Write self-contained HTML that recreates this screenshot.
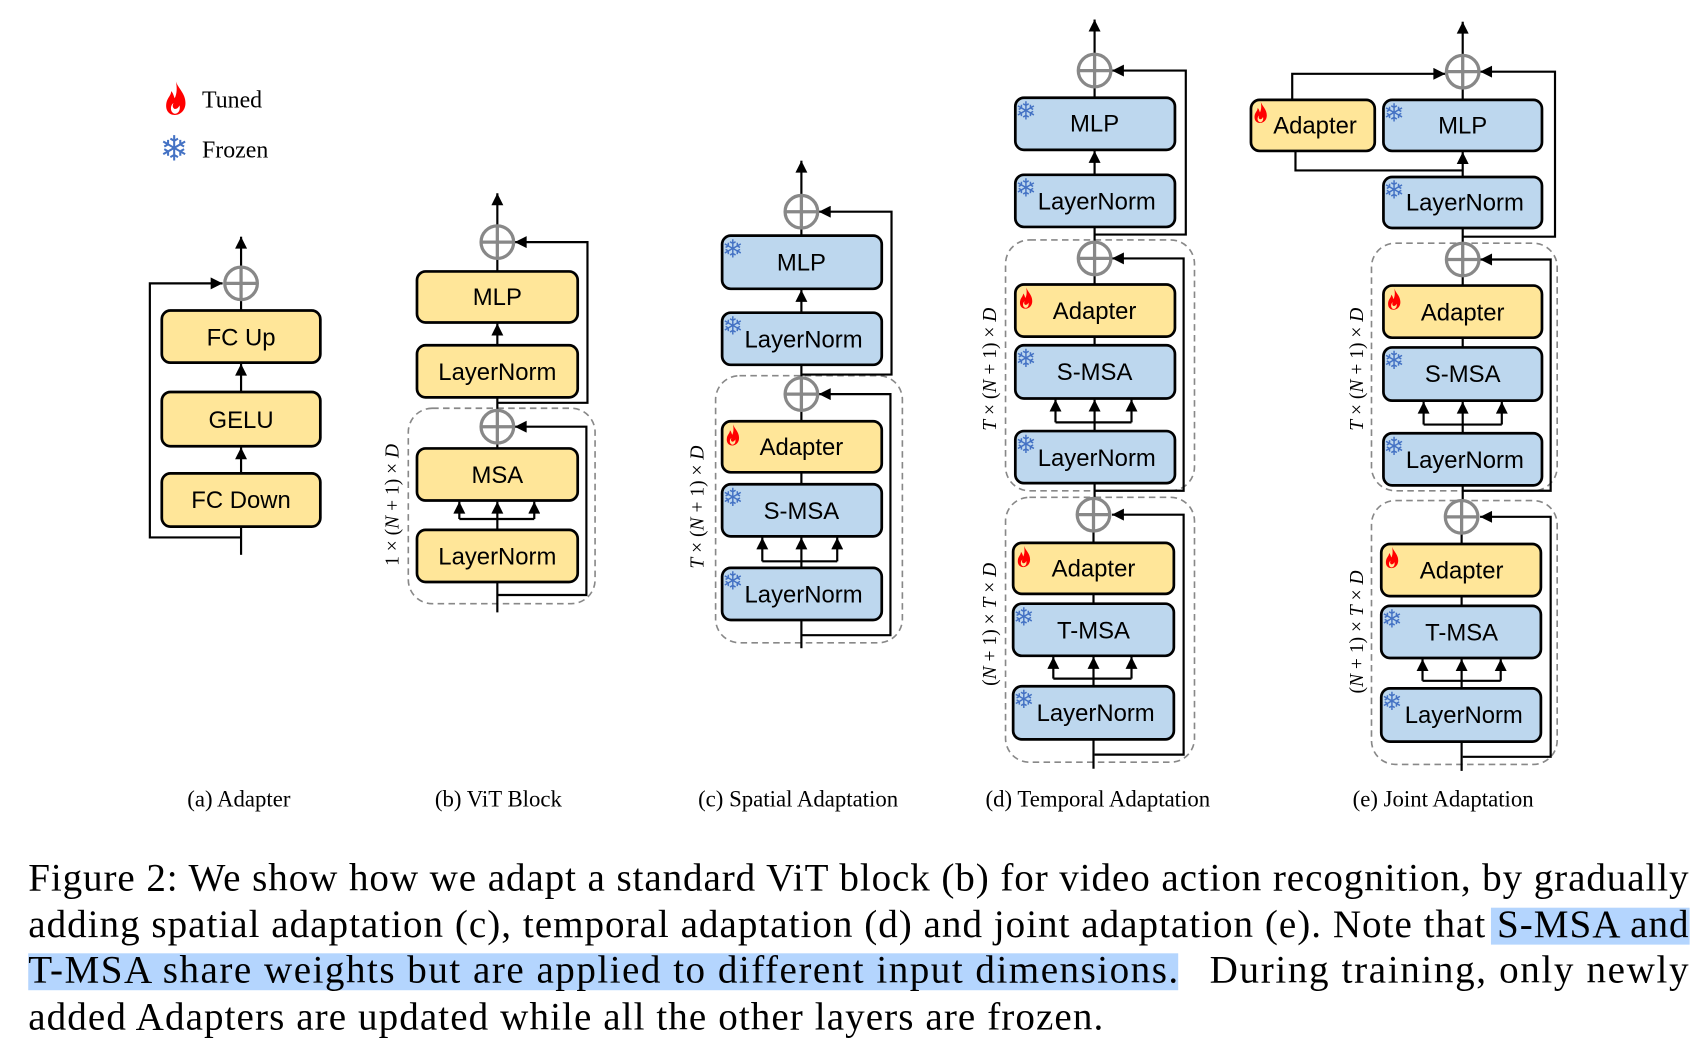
<!DOCTYPE html>
<html><head><meta charset="utf-8"><style>
html,body{margin:0;padding:0;background:#fff;}
svg{display:block;}
.b{font-family:"Liberation Sans",sans-serif;font-size:22px;text-anchor:middle;fill:#000;}
.y{fill:#FFE699;stroke:#000;stroke-width:2.5;}
.u{fill:#BDD7EE;stroke:#000;stroke-width:2.5;}
.l{stroke:#000;stroke-width:2;fill:none;}
.la{stroke:#000;stroke-width:2;fill:none;marker-end:url(#ar);}
.d{fill:none;stroke:#888;stroke-width:1.5;stroke-dasharray:6 4;}
.sf{font-family:"DejaVu Sans",sans-serif;font-size:23px;fill:#4472C4;}
.s{font-family:"Liberation Serif",serif;}
.rl{font-family:"Liberation Serif",serif;font-size:18px;text-anchor:middle;}
.cap{font-family:"Liberation Serif",serif;font-size:21px;text-anchor:middle;}
.p{font-family:"Liberation Serif",serif;font-size:36px;}
</style></head><body>
<svg width="1694" height="1038" viewBox="0 0 1560 956" preserveAspectRatio="none" xmlns="http://www.w3.org/2000/svg">
<defs>
<marker id="ar" viewBox="0 0 10 10" refX="10" refY="5" markerWidth="12" markerHeight="11" markerUnits="userSpaceOnUse" orient="auto"><path d="M0,0 L10,5 L0,10z" fill="#000"/></marker>
<symbol id="fl" viewBox="0 0 20 28"><path d="M10 0 C12 6 18 10 18 18 C18 24 14 28 9 28 C4 28 1 24 2 18 C3 13 6 12 6 8 C8 10 8 12 9 14 C11 10 11 5 10 0Z M9 27 C12 27 14 24 13 20 C12 22 11 23 9 23 C7 22 7 20 8 18 C5 20 5 26 9 27Z" fill="#f00" fill-rule="evenodd"/></symbol>
<g id="cx"><circle cx="0" cy="0" r="15" fill="#fff" stroke="#888" stroke-width="3"/><path d="M-15 0H15M0 -15V15" stroke="#888" stroke-width="3"/></g>
</defs>

<!-- legend -->
<use href="#fl" x="151" y="75" width="22" height="31"/>
<text x="186" y="99" class="s" font-size="22">Tuned</text>
<text x="147" y="148" font-family="DejaVu Sans" font-size="32" fill="#4472C4">❄</text>
<text x="186" y="145" class="s" font-size="22">Frozen</text>

<!-- (a) -->
<polyline class="la" points="222,495 138,495 138,261 205,261"/>
<line class="l" x1="222" y1="511" x2="222" y2="485"/>
<line class="la" x1="222" y1="436" x2="222" y2="412"/>
<line class="la" x1="222" y1="361" x2="222" y2="335"/>
<line class="l" x1="222" y1="286" x2="222" y2="276"/>
<line class="la" x1="222" y1="246" x2="222" y2="218"/>
<use href="#cx" x="222" y="261"/>
<rect class="y" x="149" y="286" width="146" height="48" rx="8"/><text class="b" x="222" y="318">FC Up</text>
<rect class="y" x="149" y="361" width="146" height="50" rx="8"/><text class="b" x="222" y="394">GELU</text>
<rect class="y" x="149" y="436" width="146" height="49" rx="8"/><text class="b" x="222" y="468">FC Down</text>
<text class="cap" x="220" y="743">(a) Adapter</text>

<!-- (b) -->
<rect class="d" x="376" y="376" width="172" height="180" rx="22"/>
<polyline class="la" points="458,371 541,371 541,223 474,223"/>
<polyline class="la" points="458,548 540,548 540,393 474,393"/>
<line class="l" x1="458" y1="564" x2="458" y2="536"/>
<line class="l" x1="423" y1="478" x2="492" y2="478"/><line class="l" x1="458" y1="488" x2="458" y2="478"/>
<line class="la" x1="423" y1="478" x2="423" y2="462"/><line class="la" x1="458" y1="478" x2="458" y2="462"/><line class="la" x1="492" y1="478" x2="492" y2="462"/>
<line class="l" x1="458" y1="413" x2="458" y2="405"/>
<line class="l" x1="458" y1="380" x2="458" y2="366"/>
<line class="la" x1="458" y1="318" x2="458" y2="298"/>
<line class="l" x1="458" y1="250" x2="458" y2="236"/>
<line class="la" x1="458" y1="208" x2="458" y2="178"/>
<use href="#cx" x="458" y="393"/><use href="#cx" x="458" y="223"/>
<rect class="y" x="384" y="250" width="148" height="47" rx="8"/><text class="b" x="458" y="281">MLP</text>
<rect class="y" x="384" y="318" width="148" height="48" rx="8"/><text class="b" x="458" y="350">LayerNorm</text>
<rect class="y" x="384" y="413" width="148" height="48" rx="8"/><text class="b" x="458" y="445">MSA</text>
<rect class="y" x="384" y="488" width="148" height="48" rx="8"/><text class="b" x="458" y="520">LayerNorm</text>
<text class="rl" transform="translate(367,465) rotate(-90)">1 × (<tspan font-style="italic">N</tspan> + 1) × <tspan font-style="italic">D</tspan></text>
<text class="cap" x="459" y="743">(b) ViT Block</text>

<!-- (c) -->
<rect class="d" x="659" y="346" width="172" height="246" rx="22"/>
<polyline class="la" points="738,345 821,345 821,195 754,195"/>
<polyline class="la" points="738,585 820,585 820,363 754,363"/>
<line class="l" x1="738" y1="597" x2="738" y2="571"/>
<line class="l" x1="702" y1="517" x2="771" y2="517"/><line class="l" x1="738" y1="523" x2="738" y2="517"/>
<line class="la" x1="702" y1="517" x2="702" y2="495"/><line class="la" x1="738" y1="517" x2="738" y2="495"/><line class="la" x1="771" y1="517" x2="771" y2="495"/>
<line class="l" x1="738" y1="446" x2="738" y2="435"/>
<line class="l" x1="738" y1="388" x2="738" y2="376"/>
<line class="l" x1="738" y1="350" x2="738" y2="336"/>
<line class="la" x1="738" y1="288" x2="738" y2="267"/>
<line class="l" x1="738" y1="217" x2="738" y2="208"/>
<line class="la" x1="738" y1="180" x2="738" y2="148"/>
<use href="#cx" x="738" y="363"/><use href="#cx" x="738" y="195"/>
<rect class="u" x="665" y="217" width="147" height="49" rx="8"/><text class="b" x="738" y="249">MLP</text><text class="sf" x="665" y="237">❄</text>
<rect class="u" x="665" y="288" width="147" height="48" rx="8"/><text class="b" x="740" y="320">LayerNorm</text><text class="sf" x="665" y="308">❄</text>
<rect class="y" x="665" y="388" width="147" height="47" rx="8"/><text class="b" x="738" y="419">Adapter</text><use href="#fl" x="668" y="390" width="14" height="21"/>
<rect class="u" x="665" y="446" width="147" height="48" rx="8"/><text class="b" x="738" y="478">S-MSA</text><text class="sf" x="665" y="466">❄</text>
<rect class="u" x="665" y="523" width="147" height="48" rx="8"/><text class="b" x="740" y="555">LayerNorm</text><text class="sf" x="665" y="543">❄</text>
<text class="rl" transform="translate(648,467) rotate(-90)"><tspan font-style="italic">T</tspan> × (<tspan font-style="italic">N</tspan> + 1) × <tspan font-style="italic">D</tspan></text>
<text class="cap" x="735" y="743">(c) Spatial Adaptation</text>

<!-- (d) -->
<rect class="d" x="926" y="221" width="174" height="231" rx="22"/>
<rect class="d" x="926" y="458" width="174" height="244" rx="22"/>
<polyline class="la" points="1008,216 1092,216 1092,65 1024,65"/>
<polyline class="la" points="1008,452 1090,452 1090,238 1024,238"/>
<polyline class="la" points="1008,695 1090,695 1090,474 1024,474"/>
<line class="l" x1="1007" y1="708" x2="1007" y2="681"/>
<line class="l" x1="970" y1="625" x2="1042" y2="625"/><line class="l" x1="1007" y1="632" x2="1007" y2="625"/>
<line class="la" x1="970" y1="625" x2="970" y2="605"/><line class="la" x1="1007" y1="625" x2="1007" y2="605"/><line class="la" x1="1042" y1="625" x2="1042" y2="605"/>
<line class="l" x1="1007" y1="556" x2="1007" y2="547"/>
<line class="l" x1="1007" y1="500" x2="1007" y2="487"/>
<line class="l" x1="1008" y1="461" x2="1008" y2="445"/>
<line class="l" x1="972" y1="389" x2="1042" y2="389"/><line class="l" x1="1008" y1="397" x2="1008" y2="389"/>
<line class="la" x1="972" y1="389" x2="972" y2="368"/><line class="la" x1="1008" y1="389" x2="1008" y2="368"/><line class="la" x1="1042" y1="389" x2="1042" y2="368"/>
<line class="l" x1="1008" y1="318" x2="1008" y2="310"/>
<line class="l" x1="1008" y1="262" x2="1008" y2="251"/>
<line class="l" x1="1008" y1="225" x2="1008" y2="209"/>
<line class="la" x1="1008" y1="161" x2="1008" y2="139"/>
<line class="l" x1="1008" y1="90" x2="1008" y2="78"/>
<line class="la" x1="1008" y1="50" x2="1008" y2="18"/>
<use href="#cx" x="1007" y="474"/><use href="#cx" x="1008" y="238"/><use href="#cx" x="1008" y="65"/>
<rect class="u" x="935" y="90" width="147" height="48" rx="8"/><text class="b" x="1008" y="121">MLP</text><text class="sf" x="935" y="110">❄</text>
<rect class="u" x="935" y="161" width="147" height="48" rx="8"/><text class="b" x="1010" y="193">LayerNorm</text><text class="sf" x="935" y="181">❄</text>
<rect class="y" x="935" y="262" width="147" height="48" rx="8"/><text class="b" x="1008" y="294">Adapter</text><use href="#fl" x="938" y="264" width="14" height="21"/>
<rect class="u" x="935" y="318" width="147" height="49" rx="8"/><text class="b" x="1008" y="350">S-MSA</text><text class="sf" x="935" y="338">❄</text>
<rect class="u" x="935" y="397" width="147" height="48" rx="8"/><text class="b" x="1010" y="429">LayerNorm</text><text class="sf" x="935" y="417">❄</text>
<rect class="y" x="933" y="500" width="148" height="47" rx="8"/><text class="b" x="1007" y="531">Adapter</text><use href="#fl" x="936" y="502" width="14" height="21"/>
<rect class="u" x="933" y="556" width="148" height="48" rx="8"/><text class="b" x="1007" y="588">T-MSA</text><text class="sf" x="933" y="576">❄</text>
<rect class="u" x="933" y="632" width="148" height="49" rx="8"/><text class="b" x="1009" y="664">LayerNorm</text><text class="sf" x="933" y="652">❄</text>
<text class="rl" transform="translate(917,340) rotate(-90)"><tspan font-style="italic">T</tspan> × (<tspan font-style="italic">N</tspan> + 1) × <tspan font-style="italic">D</tspan></text>
<text class="rl" transform="translate(917,575) rotate(-90)">(<tspan font-style="italic">N</tspan> + 1) × <tspan font-style="italic">T</tspan> × <tspan font-style="italic">D</tspan></text>
<text class="cap" x="1011" y="743">(d) Temporal Adaptation</text>

<!-- (e) -->
<rect class="d" x="1263" y="224" width="171" height="228" rx="22"/>
<rect class="d" x="1263" y="461" width="171" height="243" rx="22"/>
<polyline class="la" points="1347,218 1432,218 1432,66 1363,66"/>
<polyline class="la" points="1347,452 1428,452 1428,239 1363,239"/>
<polyline class="la" points="1347,697 1428,697 1428,476 1363,476"/>
<polyline class="l" points="1347,157 1193,157 1193,139"/>
<polyline class="la" points="1190,92 1190,68 1331,68"/>
<line class="l" x1="1346" y1="710" x2="1346" y2="683"/>
<line class="l" x1="1310" y1="627" x2="1382" y2="627"/><line class="l" x1="1346" y1="634" x2="1346" y2="627"/>
<line class="la" x1="1310" y1="627" x2="1310" y2="607"/><line class="la" x1="1346" y1="627" x2="1346" y2="607"/><line class="la" x1="1382" y1="627" x2="1382" y2="607"/>
<line class="l" x1="1346" y1="558" x2="1346" y2="549"/>
<line class="l" x1="1346" y1="501" x2="1346" y2="489"/>
<line class="l" x1="1347" y1="463" x2="1347" y2="447"/>
<line class="l" x1="1311" y1="391" x2="1383" y2="391"/><line class="l" x1="1347" y1="399" x2="1347" y2="391"/>
<line class="la" x1="1311" y1="391" x2="1311" y2="370"/><line class="la" x1="1347" y1="391" x2="1347" y2="370"/><line class="la" x1="1383" y1="391" x2="1383" y2="370"/>
<line class="l" x1="1347" y1="320" x2="1347" y2="311"/>
<line class="l" x1="1347" y1="263" x2="1347" y2="252"/>
<line class="l" x1="1347" y1="226" x2="1347" y2="210"/>
<line class="la" x1="1347" y1="163" x2="1347" y2="140"/>
<line class="l" x1="1347" y1="92" x2="1347" y2="79"/>
<line class="la" x1="1347" y1="51" x2="1347" y2="20"/>
<use href="#cx" x="1346" y="476"/><use href="#cx" x="1347" y="239"/><use href="#cx" x="1347" y="66"/>
<rect class="y" x="1152" y="92" width="114" height="47" rx="8"/><text class="b" x="1211" y="123">Adapter</text><use href="#fl" x="1154" y="93" width="14" height="21"/>
<rect class="u" x="1274" y="92" width="146" height="47" rx="8"/><text class="b" x="1347" y="123">MLP</text><text class="sf" x="1274" y="112">❄</text>
<rect class="u" x="1274" y="163" width="146" height="47" rx="8"/><text class="b" x="1349" y="194">LayerNorm</text><text class="sf" x="1274" y="183">❄</text>
<rect class="y" x="1274" y="263" width="146" height="48" rx="8"/><text class="b" x="1347" y="295">Adapter</text><use href="#fl" x="1277" y="265" width="14" height="21"/>
<rect class="u" x="1274" y="320" width="146" height="49" rx="8"/><text class="b" x="1347" y="352">S-MSA</text><text class="sf" x="1274" y="340">❄</text>
<rect class="u" x="1274" y="399" width="146" height="48" rx="8"/><text class="b" x="1349" y="431">LayerNorm</text><text class="sf" x="1274" y="419">❄</text>
<rect class="y" x="1272" y="501" width="147" height="48" rx="8"/><text class="b" x="1346" y="533">Adapter</text><use href="#fl" x="1275" y="503" width="14" height="21"/>
<rect class="u" x="1272" y="558" width="147" height="48" rx="8"/><text class="b" x="1346" y="590">T-MSA</text><text class="sf" x="1272" y="578">❄</text>
<rect class="u" x="1272" y="634" width="147" height="49" rx="8"/><text class="b" x="1348" y="666">LayerNorm</text><text class="sf" x="1272" y="654">❄</text>
<text class="rl" transform="translate(1255,340) rotate(-90)"><tspan font-style="italic">T</tspan> × (<tspan font-style="italic">N</tspan> + 1) × <tspan font-style="italic">D</tspan></text>
<text class="rl" transform="translate(1255,582) rotate(-90)">(<tspan font-style="italic">N</tspan> + 1) × <tspan font-style="italic">T</tspan> × <tspan font-style="italic">D</tspan></text>
<text class="cap" x="1329" y="743">(e) Joint Adaptation</text>

<!-- caption -->
<rect x="1373" y="836" width="183" height="34" fill="#B4D5FE"/>
<rect x="26" y="878" width="1059" height="34" fill="#B4D5FE"/>
<text class="p" x="26" y="820" textLength="1529" lengthAdjust="spacing">Figure 2: We show how we adapt a standard ViT block (b) for video action recognition, by gradually</text>
<text class="p" x="26" y="863" textLength="1529" lengthAdjust="spacing">adding spatial adaptation (c), temporal adaptation (d) and joint adaptation (e). Note that S-MSA and</text>
<text class="p" x="26" y="905" textLength="1059" lengthAdjust="spacing">T-MSA share weights but are applied to different input dimensions.</text>
<text class="p" x="1114" y="905" textLength="441" lengthAdjust="spacing">During training, only newly</text>
<text class="p" x="26" y="948" textLength="990" lengthAdjust="spacing">added Adapters are updated while all the other layers are frozen.</text>
</svg>
</body></html>
